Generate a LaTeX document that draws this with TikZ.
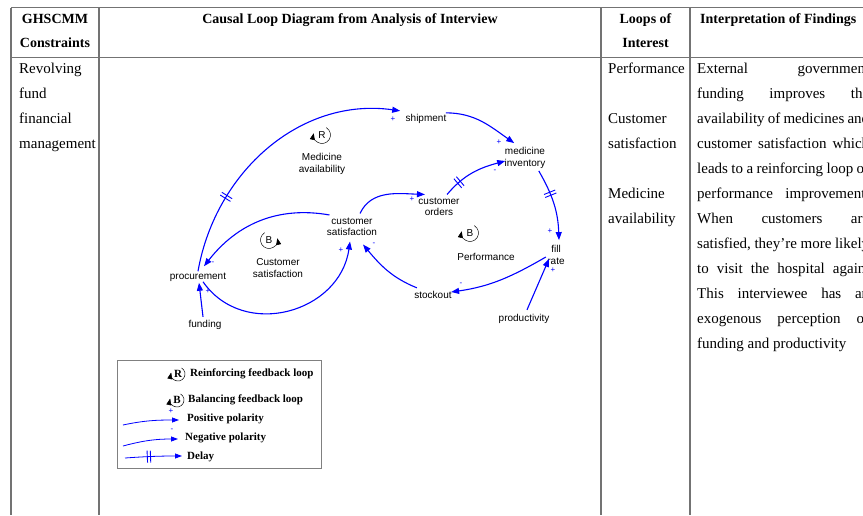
\documentclass[tikz,border=0pt]{standalone}
\usepackage{fontspec}
\setmainfont{Liberation Serif}
\setsansfont{Liberation Sans}
\usepackage{tikz}
\usetikzlibrary{positioning, arrows.meta, decorations.markings, calc}

\begin{document}
\begin{tikzpicture}[
    x=1pt, y=1pt,
    % Style for the table
    rule/.style={draw=black!55, line width=1.1pt},
    head/.style={font=\fontsize{14}{16}\selectfont\bfseries, anchor=base, inner sep=0pt},
    cell/.style={font=\fontsize{15}{17}\selectfont, anchor=base west, inner sep=0pt},
    % Style for the diagram
    var/.style={font=\sffamily\fontsize{10}{11.5}\selectfont, align=center, inner sep=1.5pt, outer sep=0pt},
    loopname/.style={font=\sffamily\fontsize{10}{11.5}\selectfont, align=center, inner sep=0pt},
    link/.style={draw=blue, line width=1.1pt, -{Triangle[length=8pt, width=6pt]}},
    pol/.style={text=blue, font=\sffamily\fontsize{8}{8}\selectfont, inner sep=0pt},
    delaymark/.style={postaction={decorate, decoration={markings,
        mark=at position #1 with {\draw[-, blue, line width=0.9pt] (-1.6pt,-6pt) -- (-1.6pt,6pt) (1.6pt,-6pt) -- (1.6pt,6pt);}}}},
    looparrow/.style={-{Triangle[length=6.5pt, width=5pt]}, line width=0.5pt},
    % Style for the legend
    legtext/.style={font=\fontsize{11}{13}\selectfont\bfseries, anchor=west, inner sep=0pt},
    legicon/.style={font=\fontsize{11}{11}\selectfont\bfseries, inner sep=0pt},
    leglink/.style={draw=blue, line width=0.8pt, -{Triangle[length=7pt, width=5pt]}}
]

    % --- Settings ---
    \def\findwidth{172pt}
    \clip (0,0) rectangle (863,-515);

    % --- Table ---
    \draw[rule] (11,-7.5) -- (863,-7.5);
    \draw[rule] (11,-57.5) -- (863,-57.5);
    \foreach \x in {11,99,601,690}
        \draw[rule] (\x,-7.5) -- (\x,-515);

    \node[head] (headA) at (55,-23) {GHSCMM};
    \node[head] (headB) at (55,-47) {Constraints};
    \node[head] (headC) at (350,-23) {Causal Loop Diagram from Analysis of Interview};
    \node[head] (headD) at (645.5,-23) {Loops of};
    \node[head] (headE) at (645.5,-47) {Interest};
    \node[head, anchor=base west] (headF) at (700,-23) {Interpretation of Findings};

    \foreach \word [count=\k from 0] in {Revolving, fund, financial, management}
        \node[cell] (constraint\k) at (19,-73-25*\k) {\word};

    \node[cell] (loopA) at (608,-73) {Performance};
    \node[cell] (loopB) at (608,-123) {Customer};
    \node[cell] (loopC) at (608,-148) {satisfaction};
    \node[cell] (loopD) at (608,-198) {Medicine};
    \node[cell] (loopE) at (608,-223) {availability};

    \foreach \line [count=\k from 0] in {External government, funding improves the,
        availability of medicines and, customer satisfaction which,
        leads to a reinforcing loop of, performance improvement.,
        When customers are, {satisfied, they’re more likely},
        to visit the hospital again., This interviewee has an,
        exogenous perception of}
        \node[cell] (finding\k) at (697,-73-25*\k) {\makebox[\findwidth][s]{\line}};
    \node[cell] (finding11) at (697,-348) {funding and productivity};

    % --- Variables ---
    \node[var] (shipment) at (426,-119) {shipment};
    \node[var] (inventory) at (525,-158) {medicine\\inventory};
    \node[var] (orders) at (439,-207) {customer\\orders};
    \node[var] (fillrate) at (556,-255) {fill\\rate};
    \node[var] (stockout) at (433,-295) {stockout};
    \node[var] (productivity) at (524,-319) {productivity};
    \node[var] (satisfaction) at (352,-227) {customer\\satisfaction};
    \node[var] (procurement) at (198,-277) {procurement};
    \node[var] (funding) at (205,-325) {funding};

    % --- Loops ---
    \node[loopname] (iconR) at (322,-135) {R};
    \draw[looparrow] (iconR.center) ++(60:8.5) arc[start angle=60, end angle=-192, radius=8.5];
    \node[loopname] (availName) at (322,-164) {Medicine\\availability};

    \node[loopname] (iconB1) at (269,-240) {B};
    \draw[looparrow] (iconB1.center) ++(120:8.5) arc[start angle=120, end angle=372, radius=8.5];
    \node[loopname] (custName) at (278,-268) {Customer\\satisfaction};

    \node[loopname] (iconB2) at (470,-233) {B};
    \draw[looparrow] (iconB2.center) ++(60:8.5) arc[start angle=60, end angle=-192, radius=8.5];
    \node[loopname] (perfName) at (486,-257) {Performance};

    % --- Links ---
    \draw[link, delaymark=0.28] (procurement.north) to[out=80, in=172] ($(shipment.north west)+(-4,2)$);
    \draw[link] ($(shipment.north east)+(-2,0)$) to[out=0, in=145] ($(inventory.north west)+(11,3)$);
    \draw[link, delaymark=0.35] ($(inventory.south east)+(-8,-1)$) to[out=-60, in=92] ($(fillrate.north)+(3,4)$);
    \draw[link, delaymark=0.25] ($(orders.north east)+(-14,2)$) to[out=50, in=195] ($(inventory.west)+(2,-3)$);
    \draw[link] ($(satisfaction.north)+(8,3)$) to[out=65, in=178] ($(orders.north west)+(8,2)$);
    \draw[link] ($(satisfaction.north west)+(4,1.5)$) to[out=170, in=52] ($(procurement.north)+(6,5)$);
    \draw[link] ($(procurement.south)+(5,1)$) to[out=-55, in=-98, looseness=1.2] ($(satisfaction.south)+(-2,-4)$);
    \draw[link] ($(stockout.north west)+(4,2)$) to[out=158, in=-50] ($(satisfaction.south)+(11,-7)$);
    \draw[link] ($(fillrate.west)+(0,-2)$) to[out=-150, in=8] ($(stockout.east)+(-2,3)$);
    \draw[link] ($(productivity.north)+(3,3)$) -- ($(fillrate.south)+(-7,7)$);
    \draw[link] ($(funding.north)+(-2,2)$) -- ($(procurement.south)+(1,0)$);

    % polarity of each link
    \foreach \name/\x/\y/\sign in {polA/393/-119/+, polB/499/-142/+, polC/550/-231/+,
        polD/495/-171/-, polE/412/-199/+, polF/213/-263/-, polG/341/-250/+,
        polH/374/-244/-, polI/461/-284/-, polJ/553/-270/+, polK/208/-291/+}
        \node[pol] (\name) at (\x,\y) {\sign};

    % --- Legend ---
    \draw[draw=black!50, line width=1pt] (117,-360) rectangle (321,-468);

    \node[legicon] (legR) at (178,-374) {R};
    \draw[looparrow] (legR.center) ++(60:7) arc[start angle=60, end angle=-192, radius=7];
    \node[legtext] (legRtext) at (190,-374) {Reinforcing feedback loop};

    \node[legicon] (legB) at (177,-400) {B};
    \draw[looparrow] (legB.center) ++(60:7) arc[start angle=60, end angle=-192, radius=7];
    \node[legtext] (legBtext) at (188,-400) {Balancing feedback loop};

    \node[legtext] (legPos) at (187,-419) {Positive polarity};
    \coordinate (posStart) at (123,-425);
    \draw[leglink] (posStart) to[out=12, in=180] ($(legPos.west)+(-8,-1)$);
    \node[pol] (legPosSign) at (171,-411) {+};

    \node[legtext] (legNeg) at (185,-438) {Negative polarity};
    \coordinate (negStart) at (123,-446);
    \draw[leglink] (negStart) to[out=15, in=180] ($(legNeg.west)+(-7,-1)$);
    \node[pol] (legNegSign) at (172,-430) {-};

    \node[legtext] (legDelay) at (187,-457) {Delay};
    \coordinate (delayStart) at (125,-458);
    \draw[leglink, delaymark=0.42] (delayStart) to[out=4, in=180] ($(legDelay.west)+(-5,1)$);

\end{tikzpicture}
\end{document}
